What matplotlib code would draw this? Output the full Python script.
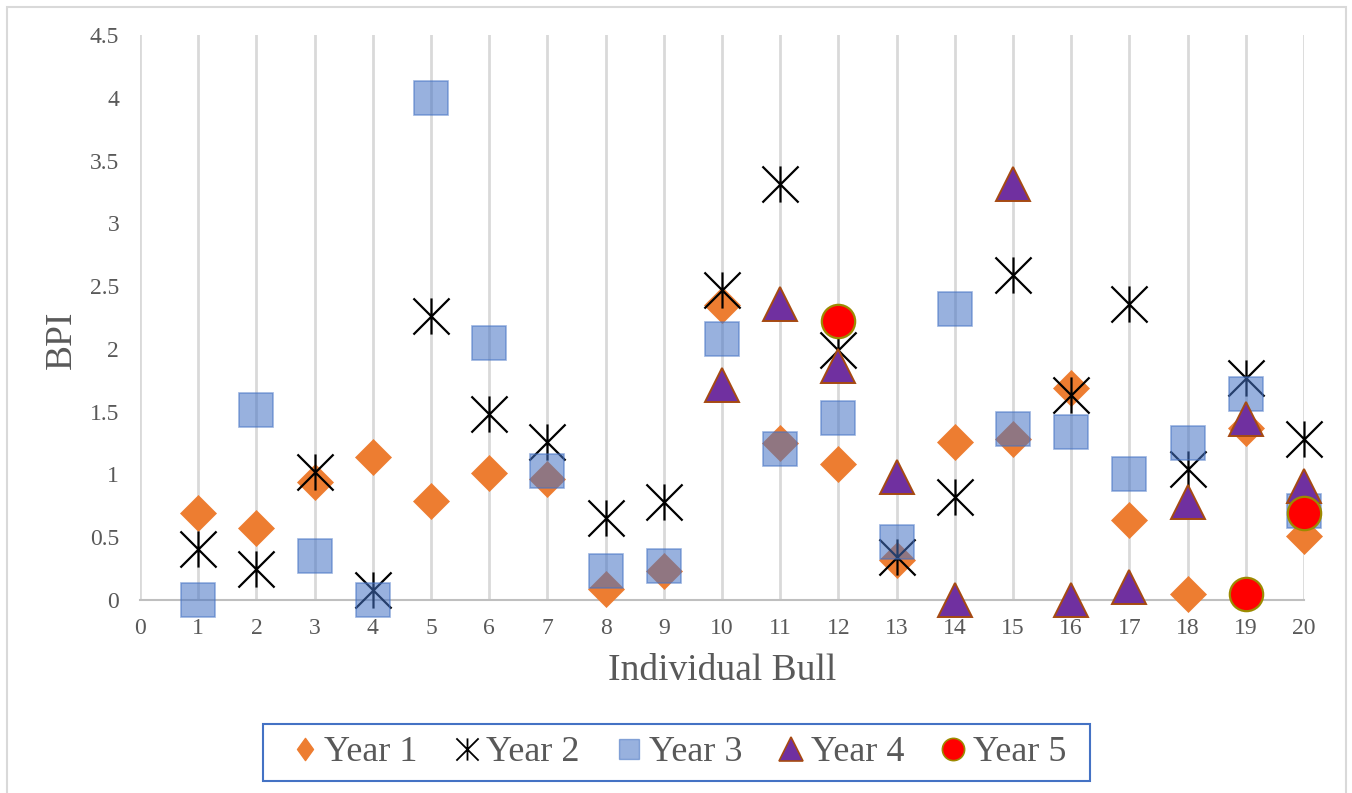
import numpy as np
import matplotlib
matplotlib.use("Agg")
import matplotlib.pyplot as plt
from matplotlib.path import Path
from matplotlib.lines import Line2D
from matplotlib.patches import Rectangle

nan = np.nan

bulls = list(range(1, 21))
year1 = [0.69, 0.57, 0.94, 1.14, 0.79, 1.01, 0.96, 0.09, 0.23, 2.35,
         1.25, 1.08, 0.32, 1.26, 1.28, 1.69, 0.64, 0.05, 1.37, 0.51]
year2 = [0.41, 0.25, 1.02, 0.08, 2.26, 1.48, 1.26, 0.65, 0.78, 2.47,
         3.31, 1.99, 0.34, 0.82, 2.59, 1.63, 2.36, 1.04, 1.77, 1.28]
year3 = [0.00, 1.51, 0.35, 0.00, 4.00, 2.05, 1.03, 0.23, 0.27, 2.08,
         1.20, 1.45, 0.46, 2.32, 1.36, 1.34, 1.00, 1.25, 1.64, 0.71]
year4 = [nan, nan, nan, nan, nan, nan, nan, nan, nan, 1.71,
         2.36, 1.86, 0.98, 0.00, 3.31, 0.00, 0.10, 0.78, 1.44, 0.91]
year5 = [nan, nan, nan, nan, nan, nan, nan, nan, nan, nan,
         nan, 2.22, nan, nan, nan, nan, nan, nan, 0.05, 0.69]
series_names = ["Year 1", "Year 2", "Year 3", "Year 4", "Year 5"]

x_ticks = list(range(0, 21))
y_ticks = [0, 0.5, 1, 1.5, 2, 2.5, 3, 3.5, 4, 4.5]
y_tick_labels = ["0", "0.5", "1", "1.5", "2", "2.5", "3", "3.5", "4", "4.5"]

plt.rcParams["font.family"] = ["Liberation Serif", "DejaVu Serif"]
TXT = "#595959"

# asterisk-like marker: an X with a vertical stroke
star_path = Path(
    [(-1, -1), (1, 1), (-1, 1), (1, -1), (0, -1), (0, 1)],
    [Path.MOVETO, Path.LINETO, Path.MOVETO, Path.LINETO, Path.MOVETO, Path.LINETO],
)
# tall, narrow diamond for the legend key
tall_diamond = Path(
    [(0, 1), (0.72, 0), (0, -1), (-0.72, 0), (0, 1)],
    [Path.MOVETO, Path.LINETO, Path.LINETO, Path.LINETO, Path.CLOSEPOLY],
)

fig = plt.figure(figsize=(13.52, 7.93), dpi=100)
ax = fig.add_axes([140 / 1352, 1 - 600 / 793, 1164 / 1352, 565 / 793])

ax.set_xlim(0, 20)
ax.set_ylim(0, 4.5)
ax.set_xticks(x_ticks)
ax.set_xticklabels([str(v) for v in x_ticks])
ax.set_yticks(y_ticks)
ax.set_yticklabels(y_tick_labels)
ax.tick_params(axis="both", length=0, labelsize=17, colors=TXT)
ax.tick_params(axis="x", pad=13)
ax.tick_params(axis="y", pad=15)
for sp in ["top", "right", "left"]:
    ax.spines[sp].set_visible(False)
ax.spines["bottom"].set_color("#BFBFBF")
ax.spines["bottom"].set_linewidth(1.5)
ax.spines["bottom"].set_zorder(1)
for xv in x_ticks:
    ax.axvline(xv, color="#D9D9D9", lw=2.0, zorder=0)

ax.plot(bulls, year1, ls="none", marker="D", ms=18.5, mfc="#ED7D31",
        mec="#ED7D31", mew=0.5, zorder=3, clip_on=False)
ax.plot(bulls, year2, ls="none", marker=star_path, ms=26, mfc="none",
        mec="black", mew=1.6, zorder=4, clip_on=False)
ax.plot(bulls, year3, ls="none", marker="s", ms=24.5, mfc="#4472C4",
        mec="#4472C4", mew=1.2, alpha=0.55, zorder=5, clip_on=False)
ax.plot(bulls, year4, ls="none", marker="^", ms=25, mfc="#7030A0",
        mec="#A64A12", mew=1.4, zorder=6, clip_on=False)
ax.plot(bulls, year5, ls="none", marker="o", ms=24, mfc="#FF0000",
        mec="#9C8A00", mew=1.6, zorder=7, clip_on=False)

fig.text(722 / 1352, 1 - 671 / 793, "Individual Bull", ha="center", va="center",
         fontsize=27, color=TXT)
fig.text(62 / 1352, 1 - 340 / 793, "BPI", ha="center", va="center",
         rotation=90, fontsize=27, color=TXT)

handles = [
    Line2D([], [], ls="none", marker=tall_diamond, ms=16, mfc="#ED7D31", mec="#ED7D31"),
    Line2D([], [], ls="none", marker=star_path, ms=16, mfc="none", mec="black", mew=1.3),
    Line2D([], [], ls="none", marker="s", ms=15, mfc="#4472C4", mec="#4472C4",
           alpha=0.55),
    Line2D([], [], ls="none", marker="^", ms=17, mfc="#7030A0", mec="#A64A12", mew=1.2),
    Line2D([], [], ls="none", marker="o", ms=16, mfc="#FF0000", mec="#9C8A00", mew=1.2),
]
leg = fig.legend(handles, series_names, loc="center", ncol=5,
                 bbox_to_anchor=(680 / 1352, 1 - 752.5 / 793),
                 fontsize=26, frameon=False,
                 handlelength=0.6, handletextpad=0.25, columnspacing=1.05,
                 borderpad=0.25, labelcolor=TXT)

# legend box
fig.patches.append(Rectangle((263 / 1352, 1 - 781 / 793), 827 / 1352, 57 / 793,
                             transform=fig.transFigure, fill=False,
                             edgecolor="#4472C4", lw=1.5))

# chart area border (open at the bottom edge of the canvas)
fig.patches.append(Rectangle((7 / 1352, -0.05), 1339 / 1352, 1.05 - 7 / 793,
                             transform=fig.transFigure, fill=False,
                             edgecolor="#D9D9D9", lw=1.5))

fig.savefig("out.png", dpi=100)
